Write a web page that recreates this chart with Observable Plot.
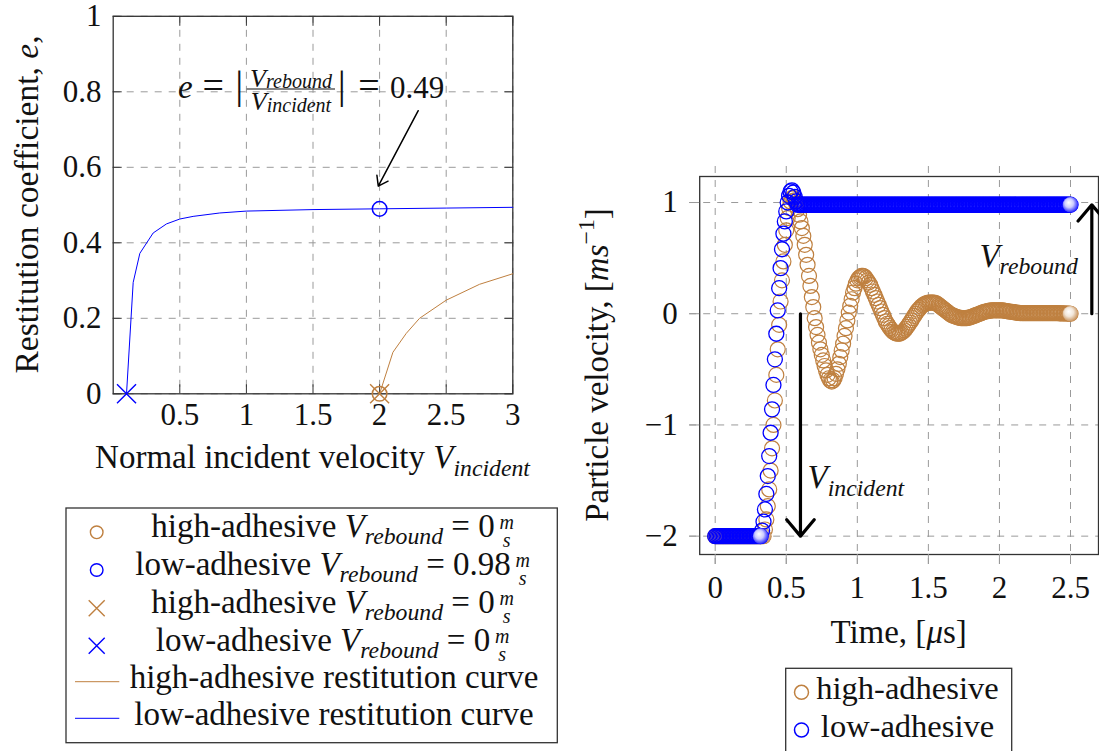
<!DOCTYPE html>
<html>
<head>
<meta charset="utf-8">
<script src="https://cdn.jsdelivr.net/npm/d3@7"></script>
<script src="https://cdn.jsdelivr.net/npm/@observablehq/plot@0.6"></script>
<style>
  html, body { margin: 0; padding: 0; background: #fff; overflow: hidden; }
  #fig { position: relative; width: 1099px; height: 751px; font-family: "Liberation Serif", "DejaVu Serif", serif; }
  #fig svg { position: absolute; overflow: visible; }
</style>
</head>
<body>
<div id="fig"></div>
<script>
// ---------- Restitution coefficient vs normal incident velocity ----------
const lowCurveVelocity = [0.1, 0.15, 0.2, 0.3, 0.4, 0.5, 0.6, 0.8, 1.0, 1.5, 2.0, 2.5, 3.0];
const lowCurveRestitution = [0, 0.295, 0.372, 0.426, 0.45, 0.463, 0.47, 0.479, 0.484, 0.488, 0.49, 0.492, 0.494];
const highCurveVelocity = [2.0, 2.1, 2.2, 2.3, 2.5, 2.75, 3.0];
const highCurveRestitution = [0, 0.11, 0.16, 0.2, 0.248, 0.29, 0.318];

// measured cases (circles: simulated impacts at 2 m/s, crosses: sticking threshold)
const circleCases = ["high", "low"];
const circleVelocity = [2, 2];
const circleRestitution = [0, 0.49];
const crossCases = ["high", "low"];
const crossVelocity = [2, 0.1];
const crossRestitution = [0, 0];

const velocityTicks = [0.5, 1, 1.5, 2, 2.5, 3];
const restitutionTicks = [0, 0.2, 0.4, 0.6, 0.8, 1];

// annotation arrow pointing at the low-adhesive case
const noteArrowFrom = [2.29, 0.75];
const noteArrowTo = [1.99, 0.55];

// ---------- Particle velocity histories (sampled every 0.01 µs) ----------
const timeStep = 0.01;
const lowVelocity = [
  -2, -2, -2, -2, -2, -2, -2, -2, -2, -2,
  -2, -2, -2, -2, -2, -2, -2, -2, -2, -2,
  -2, -2, -2, -2, -2, -2, -2, -2, -2, -2,
  -2, -2, -2, -1.95, -1.87, -1.76, -1.62, -1.46, -1.28, -1.07,
  -0.86, -0.64, -0.41, -0.18, 0.03, 0.23, 0.41, 0.58, 0.72, 0.83,
  0.92, 1.00, 1.06, 1.10, 1.11, 1.09, 1.05, 1.01, 0.98, 0.98,
  0.98, 0.98, 0.98, 0.98, 0.98, 0.98, 0.98, 0.98, 0.98, 0.98,
  0.98, 0.98, 0.98, 0.98, 0.98, 0.98, 0.98, 0.98, 0.98, 0.98,
  0.98, 0.98, 0.98, 0.98, 0.98, 0.98, 0.98, 0.98, 0.98, 0.98,
  0.98, 0.98, 0.98, 0.98, 0.98, 0.98, 0.98, 0.98, 0.98, 0.98,
  0.98, 0.98, 0.98, 0.98, 0.98, 0.98, 0.98, 0.98, 0.98, 0.98,
  0.98, 0.98, 0.98, 0.98, 0.98, 0.98, 0.98, 0.98, 0.98, 0.98,
  0.98, 0.98, 0.98, 0.98, 0.98, 0.98, 0.98, 0.98, 0.98, 0.98,
  0.98, 0.98, 0.98, 0.98, 0.98, 0.98, 0.98, 0.98, 0.98, 0.98,
  0.98, 0.98, 0.98, 0.98, 0.98, 0.98, 0.98, 0.98, 0.98, 0.98,
  0.98, 0.98, 0.98, 0.98, 0.98, 0.98, 0.98, 0.98, 0.98, 0.98,
  0.98, 0.98, 0.98, 0.98, 0.98, 0.98, 0.98, 0.98, 0.98, 0.98,
  0.98, 0.98, 0.98, 0.98, 0.98, 0.98, 0.98, 0.98, 0.98, 0.98,
  0.98, 0.98, 0.98, 0.98, 0.98, 0.98, 0.98, 0.98, 0.98, 0.98,
  0.98, 0.98, 0.98, 0.98, 0.98, 0.98, 0.98, 0.98, 0.98, 0.98,
  0.98, 0.98, 0.98, 0.98, 0.98, 0.98, 0.98, 0.98, 0.98, 0.98,
  0.98, 0.98, 0.98, 0.98, 0.98, 0.98, 0.98, 0.98, 0.98, 0.98,
  0.98, 0.98, 0.98, 0.98, 0.98, 0.98, 0.98, 0.98, 0.98, 0.98,
  0.98, 0.98, 0.98, 0.98, 0.98, 0.98, 0.98, 0.98, 0.98, 0.98,
  0.98, 0.98, 0.98, 0.98, 0.98, 0.98, 0.98, 0.98, 0.98, 0.98,
  0.98
];
const highVelocity = [
  -2, -2, -2, -2, -2, -2, -2, -2, -2, -2,
  -2, -2, -2, -2, -2, -2, -2, -2, -2, -2,
  -2, -2, -2, -2, -2, -2, -2, -2, -2, -2,
  -2, -2, -2, -2, -2, -1.94, -1.85, -1.73, -1.58, -1.41,
  -1.21, -1.00, -0.78, -0.55, -0.32, -0.10, 0.11, 0.30, 0.47, 0.62,
  0.75, 0.86, 0.95, 1.01, 1.04, 1.04, 1.02, 0.99, 0.94, 0.89,
  0.83, 0.77, 0.70, 0.62, 0.53, 0.44, 0.34, 0.25, 0.15, 0.06,
  -0.04, -0.12, -0.19, -0.26, -0.32, -0.37, -0.42, -0.47, -0.51, -0.55,
  -0.58, -0.60, -0.61, -0.60, -0.58, -0.54, -0.50, -0.45, -0.39, -0.33,
  -0.27, -0.20, -0.13, -0.06, 0.01, 0.07, 0.13, 0.19, 0.23, 0.27,
  0.30, 0.32, 0.33, 0.34, 0.34, 0.335, 0.32, 0.30, 0.28, 0.26,
  0.23, 0.20, 0.17, 0.14, 0.11, 0.08, 0.05, 0.02, -0.01, -0.04,
  -0.07, -0.09, -0.11, -0.13, -0.145, -0.16, -0.17, -0.175, -0.18, -0.18,
  -0.178, -0.172, -0.163, -0.15, -0.135, -0.118, -0.10, -0.08, -0.06, -0.04,
  -0.02, 0.00, 0.02, 0.035, 0.05, 0.065, 0.075, 0.085, 0.09, 0.095,
  0.10, 0.10, 0.10, 0.10, 0.10, 0.095, 0.09, 0.08, 0.07, 0.06,
  0.05, 0.04, 0.03, 0.02, 0.01, 0.00, -0.01, -0.015, -0.02, -0.025,
  -0.03, -0.035, -0.035, -0.04, -0.04, -0.04, -0.04, -0.04, -0.035, -0.035,
  -0.03, -0.025, -0.02, -0.015, -0.01, -0.005, 0.00, 0.005, 0.01, 0.015,
  0.02, 0.02, 0.025, 0.025, 0.03, 0.03, 0.03, 0.03, 0.03, 0.03,
  0.03, 0.03, 0.03, 0.028, 0.026, 0.024, 0.022, 0.02, 0.018, 0.016,
  0.014, 0.012, 0.01, 0.008, 0.007, 0.006, 0.005, 0.005, 0.005, 0.005,
  0.005, 0.005, 0.005, 0.005, 0.005, 0.005, 0.005, 0.005, 0.005, 0.005,
  0.005, 0.005, 0.005, 0.005, 0.005, 0.005, 0.005, 0.005, 0.005, 0.005,
  0.005, 0.005, 0.004, 0.004, 0.003, 0.003, 0.002, 0.002, 0.001, 0.001,
  0
];
const timeTicks = [0, 0.5, 1, 1.5, 2, 2.5];
const particleVelocityTicks = [-2, -1, 0, 1];

// incident / rebound arrows (time position of each arrow)
const incidentArrowTime = 0.6;
const incidentVelocity = -2;
const reboundArrowTime = 2.65;
const reboundVelocity = 0.98;

// ---------- styling ----------
const FONT = '"Liberation Serif", "DejaVu Serif", serif';
const BROWN = "#bf8040";
const BLUE = "#0000ff";
const INK = "#111";
const caseColor = c => (c === "high" ? BROWN : BLUE);

const lowCurve = lowCurveVelocity.map((v, i) => ({v, e: lowCurveRestitution[i]}));
const highCurve = highCurveVelocity.map((v, i) => ({v, e: highCurveRestitution[i]}));
const circles = circleCases.map((c, i) => ({c, v: circleVelocity[i], e: circleRestitution[i]}));
const crosses = crossCases.map((c, i) => ({c, v: crossVelocity[i], e: crossRestitution[i]}));

const toRows = (arr, c) => arr.map((v, i) => ({t: +(i * timeStep).toFixed(2), v, c}));
const lowRows = toRows(lowVelocity, "low");
const highRows = toRows(highVelocity, "high");
// shaded balls: end of the incident plateau and final sample of each history
const ballsOf = rows => {
  let k = 0;
  rows.forEach((d, i) => { if (d.v === incidentVelocity) k = i; });
  return [rows[k], rows[rows.length - 1]];
};

const dash = {stroke: "#9a9a9a", strokeOpacity: 1, strokeWidth: 1, strokeDasharray: "7,7"};
const fmtPlain = d => String(d);
const fmtMinus = d => (d < 0 ? "\u2212" : "") + Math.abs(d);

const fig = d3.select("#fig");

// ---------- left chart ----------
const leftPlot = Plot.plot({
  width: 540, height: 440,
  marginLeft: 112.7, marginRight: 27.7, marginTop: 15.8, marginBottom: 46.7,
  style: {fontFamily: FONT, fontSize: "31px", color: INK, background: "none", overflow: "visible"},
  x: {domain: [0, 3]},
  y: {domain: [0, 1]},
  marks: [
    Plot.gridX(velocityTicks, dash),
    Plot.gridY(restitutionTicks, dash),
    Plot.frame({stroke: "#333", strokeWidth: 1.3}),
    Plot.axisX(velocityTicks, {anchor: "bottom", tickSize: -9, fill: "none", stroke: "#333", label: null}),
    Plot.axisX(velocityTicks, {anchor: "top", tickSize: -9, fill: "none", stroke: "#333", label: null}),
    Plot.axisY(restitutionTicks, {anchor: "left", tickSize: -9, fill: "none", stroke: "#333", label: null}),
    Plot.axisY(restitutionTicks, {anchor: "right", tickSize: -9, fill: "none", stroke: "#333", label: null}),
    Plot.axisX(velocityTicks, {anchor: "bottom", tickSize: 0, tickPadding: 9, tickFormat: fmtPlain, label: null}),
    Plot.axisY(restitutionTicks, {anchor: "left", tickSize: 0, tickPadding: 11.7, tickFormat: fmtPlain, label: null}),
    Plot.line(highCurve, {x: "v", y: "e", stroke: BROWN, strokeWidth: 1}),
    Plot.line(lowCurve, {x: "v", y: "e", stroke: BLUE, strokeWidth: 1}),
    Plot.dot(circles, {x: "v", y: "e", r: 7.3, stroke: d => caseColor(d.c), strokeWidth: 1.5, fill: "none"}),
    Plot.dot(crosses, {x: "v", y: "e", r: 8.7, symbol: "times", stroke: d => caseColor(d.c), strokeWidth: 1.4}),
    Plot.arrow([0], {x1: () => noteArrowFrom[0], y1: () => noteArrowFrom[1],
                     x2: () => noteArrowTo[0], y2: () => noteArrowTo[1],
                     stroke: "#000", strokeWidth: 1.5, headLength: 11, headAngle: 70})
  ]
});
d3.select(leftPlot).style("left", "0px").style("top", "0px");
fig.node().appendChild(leftPlot);

// ---------- right chart ----------
const rightPlot = Plot.plot({
  width: 539, height: 460,
  marginLeft: 139.2, marginRight: 1, marginTop: 26, marginBottom: 56,
  style: {fontFamily: FONT, fontSize: "31px", color: INK, background: "none", overflow: "visible"},
  x: {domain: [-0.109, 2.697]},
  y: {domain: [-2.165, 1.234]},
  marks: [
    Plot.gridX(timeTicks, {...dash, insetTop: -10, insetBottom: -10}),
    Plot.gridY(particleVelocityTicks, {...dash, insetLeft: -10, insetRight: -10}),
    Plot.frame({stroke: "#333", strokeWidth: 1.3}),
    Plot.axisX(timeTicks, {anchor: "bottom", tickSize: 10, stroke: "#9a9a9a", tickPadding: 11,
                           tickFormat: fmtPlain, label: null}),
    Plot.axisY(particleVelocityTicks, {anchor: "left", tickSize: 10, stroke: "#9a9a9a", tickPadding: 12,
                                        tickFormat: fmtMinus, label: null}),
    Plot.dot(highRows, {x: "t", y: "v", r: 7.5, stroke: BROWN, strokeWidth: 1.2, fill: "none"}),
    Plot.dot(ballsOf(highRows), {x: "t", y: "v", r: 7.8, fill: "url(#ballBrown)"}),
    Plot.dot(lowRows, {x: "t", y: "v", r: 7.5, stroke: BLUE, strokeWidth: 1.3, fill: "none"}),
    Plot.dot(ballsOf(lowRows), {x: "t", y: "v", r: 7.8, fill: "url(#ballBlue)"}),
    Plot.arrow([0], {x1: () => incidentArrowTime, y1: () => 0, x2: () => incidentArrowTime, y2: () => incidentVelocity,
                     stroke: "#000", strokeWidth: 3.2, headLength: 10, headAngle: 80}),
    Plot.arrow([0], {x1: () => reboundArrowTime, y1: () => 0, x2: () => reboundArrowTime, y2: () => reboundVelocity,
                     stroke: "#000", strokeWidth: 3.2, headLength: 10, headAngle: 80})
  ]
});
d3.select(rightPlot).style("left", "560px").style("top", "150px");
fig.node().appendChild(rightPlot);

// ---------- overlay: labels, formula, legends ----------
const ov = fig.append("svg")
  .attr("width", 1099).attr("height", 751)
  .style("left", "0px").style("top", "0px").style("pointer-events", "none")
  .style("font-family", FONT);

const defs = ov.append("defs");
function ball(id, color) {
  const g = defs.append("radialGradient").attr("id", id)
    .attr("cx", "0.45").attr("cy", "0.45").attr("r", "0.62").attr("fx", "0.38").attr("fy", "0.35");
  g.append("stop").attr("offset", "0").attr("stop-color", "#ffffff");
  g.append("stop").attr("offset", "0.45").attr("stop-color", d3.interpolateRgb("#ffffff", color)(0.2));
  g.append("stop").attr("offset", "1").attr("stop-color", color);
}
ball("ballBrown", BROWN);
ball("ballBlue", BLUE);

// text with italic math, subscripts and superscripts
function mathText(parent, x, y, parts, size, anchor = "start", rotate = 0) {
  const t = parent.append("text").attr("x", x).attr("y", y)
    .attr("font-size", size).attr("text-anchor", anchor)
    .attr("fill", INK).style("white-space", "pre");
  if (rotate) t.attr("transform", `rotate(${rotate},${x},${y})`);
  let shift = 0;
  for (const p of parts) {
    const [str, kind = "rm", offs, scale] = p;
    const s = t.append("tspan").text(str);
    let off = 0, fs = size;
    if (kind === "it") s.attr("font-style", "italic");
    if (kind === "sub") { off = (offs ?? 0.22) * size; fs = (scale ?? 0.72) * size; s.attr("font-style", "italic"); }
    if (kind === "sup") { off = -(offs ?? 0.42) * size; fs = (scale ?? 0.72) * size; }
    s.attr("font-size", fs);
    if (off !== shift) { s.attr("dy", off - shift); shift = off; }
  }
  return t;
}
const Vsub = sub => [["V", "it"], [sub, "sub"]];

// stacked unit m over s (no rule), as one text element
function unitMS(parent, cx, size) {
  const t = parent.append("text").attr("font-size", size).attr("font-style", "italic")
    .attr("text-anchor", "middle").attr("fill", INK);
  t.append("tspan").attr("x", cx).attr("y", -8).text("m");
  t.append("tspan").attr("x", cx).attr("y", 10).text("s");
  return t;
}

// axis titles
mathText(ov, 312.5, 468.3, [["Normal incident velocity "], ...Vsub("incident")], 33, "middle");
mathText(ov, 37.5, 204.5, [["Restitution coefficient, "], ["e", "it"], [","]], 33.5, "middle", -90);
mathText(ov, 898.6, 643.3, [["Time, ["], ["\u03bc", "it"], ["s]"]], 33, "middle");
mathText(ov, 608, 365, [["Particle velocity, ["], ["ms", "it"], ["\u22121", "sup"], ["]"]], 33, "middle", -90);

// formula for the restitution coefficient
mathText(ov, 178, 98.3, [["e", "it"]], 33);
mathText(ov, 213.3, 98.3, [["="]], 38, "middle");
mathText(ov, 239.3, 98.3, [["|"]], 40, "middle");
ov.append("line").attr("x1", 246.7).attr("x2", 335).attr("y1", 89).attr("y2", 89)
  .attr("stroke", INK).attr("stroke-width", 1.2);
mathText(ov, 291, 86.5, [["V", "it"], ["rebound", "sub", 0.07, 0.77]], 26, "middle");
mathText(ov, 291, 110, [["V", "it"], ["incident", "sub", 0.09, 0.77]], 26, "middle");
mathText(ov, 341.7, 98.3, [["|"]], 40, "middle");
mathText(ov, 369, 98.3, [["="]], 38, "middle");
mathText(ov, 390, 98.3, [["0.49"]], 31);

// arrow labels in the velocity chart
mathText(ov, 807.5, 488.3, Vsub("incident"), 33);
mathText(ov, 979.4, 266.7, Vsub("rebound"), 33);

// ---------- left legend ----------
ov.append("rect").attr("x", 66).attr("y", 508).attr("width", 491.3).attr("height", 234.7)
  .attr("fill", "#fff").attr("stroke", "#333").attr("stroke-width", 1.3);

const legendRows = [
  {mark: "circle", c: "high", words: "high-adhesive ", value: "0", unit: true},
  {mark: "circle", c: "low", words: "low-adhesive ", value: "0.98", unit: true},
  {mark: "cross", c: "high", words: "high-adhesive ", value: "0", unit: true},
  {mark: "cross", c: "low", words: "low-adhesive ", value: "0", unit: true},
  {mark: "line", c: "high", words: "high-adhesive restitution curve"},
  {mark: "line", c: "low", words: "low-adhesive restitution curve"}
];
const rowMarkY = [532.3, 570, 608.3, 645.7, 681.7, 718.3];
const rowBaseY = [537, 575, 613, 651, 688, 725];
legendRows.forEach((row, i) => {
  const col = caseColor(row.c);
  const my = rowMarkY[i];
  if (row.mark === "circle") {
    ov.append("circle").attr("cx", 96.7).attr("cy", my).attr("r", 6.3)
      .attr("fill", "none").attr("stroke", col).attr("stroke-width", 1.4);
  } else if (row.mark === "cross") {
    ov.append("path").attr("d", `M${96.7 - 8},${my - 8}L${96.7 + 8},${my + 8}M${96.7 - 8},${my + 8}L${96.7 + 8},${my - 8}`)
      .attr("stroke", col).attr("stroke-width", 1.4);
  } else {
    ov.append("line").attr("x1", 75).attr("x2", 119.3).attr("y1", my).attr("y2", my)
      .attr("stroke", col).attr("stroke-width", 1);
  }
  const g = ov.append("g");
  const parts = row.unit ? [[row.words], ...Vsub("rebound"), [" = " + row.value]] : [[row.words]];
  const t = mathText(g, 0, 0, parts, 33);
  let w = t.node().getComputedTextLength();
  if (row.unit) {
    unitMS(g, w + 12, 20);
    w += 22;
  }
  g.attr("transform", `translate(${334 - w / 2},${rowBaseY[i]})`);
});

// ---------- right legend ----------
ov.append("rect").attr("x", 785.7).attr("y", 668.3).attr("width", 226).attr("height", 100)
  .attr("fill", "#fff").attr("stroke", "#333").attr("stroke-width", 1.3);
[["high", "high-adhesive", 692.3, 699.3], ["low", "low-adhesive", 730, 736.7]].forEach(([c, label, my, by]) => {
  ov.append("circle").attr("cx", 801.5).attr("cy", my).attr("r", 7)
    .attr("fill", "none").attr("stroke", caseColor(c)).attr("stroke-width", 1.5);
  mathText(ov, 907.5, by, [[label]], 32.5, "middle");
});
</script>
</body>
</html>
